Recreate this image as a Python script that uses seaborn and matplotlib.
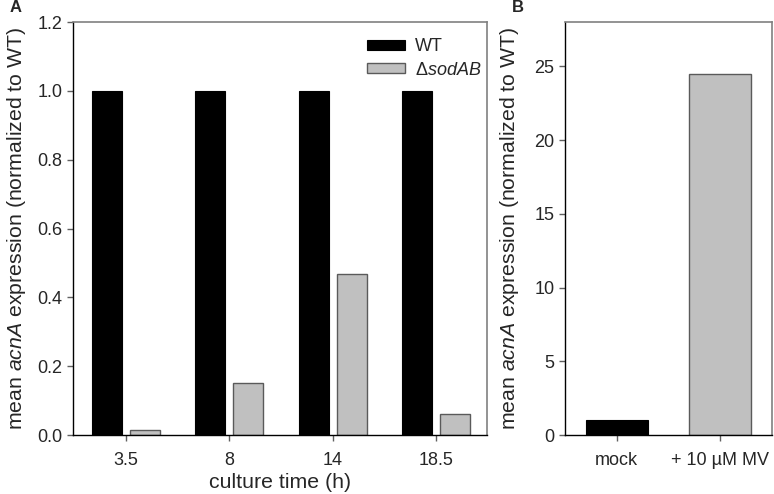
import matplotlib
matplotlib.use("Agg")
import matplotlib.pyplot as plt
import seaborn as sns
import pandas as pd

# Data
times = ["3.5", "8", "14", "18.5"]
wt_values = [1.0, 1.0, 1.0, 1.0]
sod_values = [0.015, 0.15, 0.468, 0.06]
treatments = ["mock", "+ 10 µM MV"]
treat_values = [1.0, 24.45]
strain_labels = ["WT", "ΔsodAB"]

sns.set_theme(style="white")
plt.rcParams["font.family"] = ["Liberation Sans", "DejaVu Sans"]
plt.rcParams["mathtext.fontset"] = "custom"
plt.rcParams["mathtext.rm"] = "Liberation Sans"
plt.rcParams["mathtext.it"] = "Liberation Sans:italic"

dfA = pd.DataFrame({
    "time": times * 2,
    "value": wt_values + sod_values,
    "strain": [strain_labels[0]] * len(times) + [strain_labels[1]] * len(times),
})
dfB = pd.DataFrame({"treat": treatments, "value": treat_values})

fig = plt.figure(figsize=(7.74, 4.94), dpi=100)
axA = fig.add_axes([73/774, 1 - 435/494, (487-73)/774, (435-22)/494])
axB = fig.add_axes([565/774, 1 - 435/494, (772-565)/774, (435-22)/494])

sns.barplot(data=dfA, x="time", y="value", hue="strain", order=times,
            hue_order=strain_labels, palette=["black", "#c0c0c0"],
            width=0.74, gap=0.22, ax=axA, errorbar=None, saturation=1)
for p in axA.patches:
    fc = p.get_facecolor()
    if fc[0] > 0.5:
        p.set_edgecolor("#5a5a5a")
        p.set_linewidth(1.0)
    else:
        p.set_edgecolor("black")
        p.set_linewidth(0.8)

sns.barplot(data=dfB, x="treat", y="value", hue="treat", order=treatments,
            palette=["black", "#c0c0c0"], width=0.6, ax=axB, errorbar=None,
            saturation=1, legend=False)
for p in axB.patches:
    fc = p.get_facecolor()
    if fc[0] > 0.5:
        p.set_edgecolor("#5a5a5a")
        p.set_linewidth(1.0)
    else:
        p.set_edgecolor("black")
        p.set_linewidth(0.8)

ylabel = r"mean $\it{acnA}$ expression (normalized to WT)"
axA.set_ylim(0, 1.2)
axA.set_xlim(-0.51, 3.49)
axA.set_yticks([0.0, 0.2, 0.4, 0.6, 0.8, 1.0, 1.2])
axA.set_yticklabels(["0.0", "0.2", "0.4", "0.6", "0.8", "1.0", "1.2"])
axA.set_xlabel("culture time (h)", fontsize=15.3, labelpad=3)
axA.set_ylabel(ylabel, fontsize=15.3, labelpad=7)

axB.set_ylim(0, 28)
axB.set_xlim(-0.5, 1.5)
axB.set_yticks([0, 5, 10, 15, 20, 25])
axB.set_xlabel("")
axB.set_ylabel(ylabel, fontsize=15.3, labelpad=10)

for ax in (axA, axB):
    ax.tick_params(axis="both", which="major", labelsize=13, length=4,
                   width=1, direction="out", color="#606060",
                   bottom=True, left=True)
    ax.tick_params(axis="y", pad=3.5)
    ax.tick_params(axis="x", pad=8)
    for s in ("top", "right"):
        ax.spines[s].set_visible(True)
        ax.spines[s].set_color("#808080")
        ax.spines[s].set_linewidth(1.2)
    for s in ("left", "bottom"):
        ax.spines[s].set_color("black")
        ax.spines[s].set_linewidth(1.0)

handles, _ = axA.get_legend_handles_labels()
axA.legend(handles, ["WT", r"Δ$\it{sodAB}$"], loc="upper right",
           bbox_to_anchor=(1.025, 1.0), frameon=False, fontsize=13,
           handlelength=2.1, handleheight=0.5, handletextpad=0.55,
           borderaxespad=0.5, labelspacing=0.35)

fig.text(10/774, 1 - 8/494, "A", fontsize=12, fontweight="bold", va="center")
fig.text(512/774, 1 - 8/494, "B", fontsize=12, fontweight="bold", va="center")

fig.savefig("out.png", dpi=100)
